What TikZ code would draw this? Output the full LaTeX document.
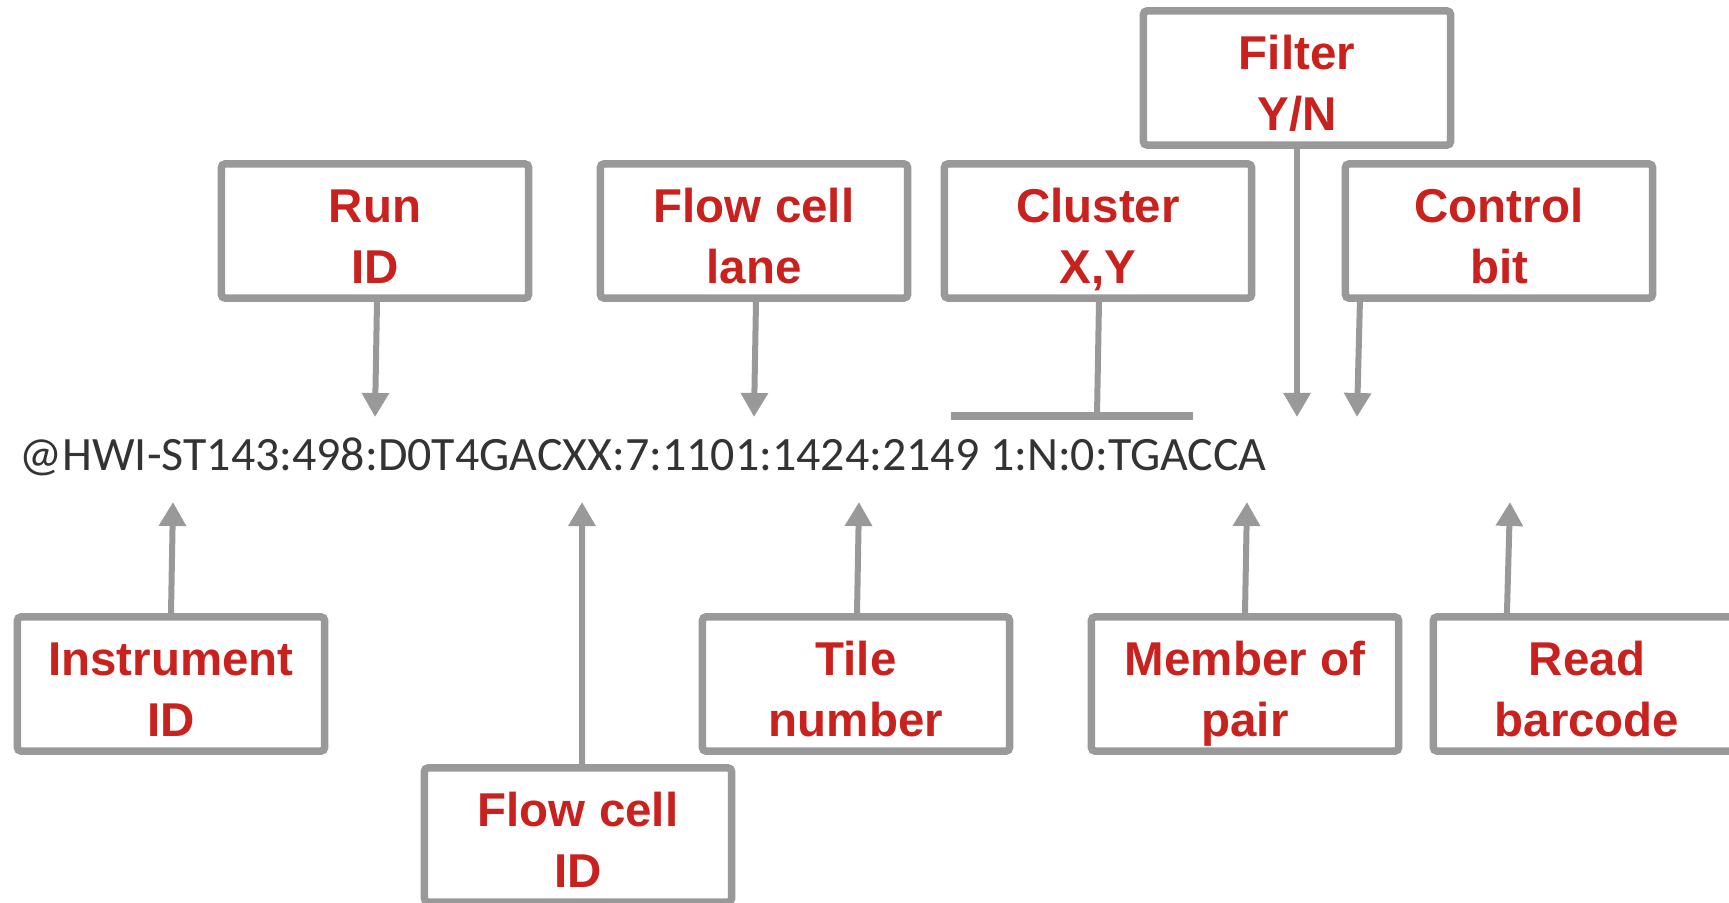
\documentclass[tikz,border=0pt]{standalone}
\usepackage{fontspec}
\usetikzlibrary{arrows.meta}
\newfontfamily\boxfont{Liberation Sans}
\newfontfamily\readfont{Carlito}
\definecolor{boxgray}{HTML}{999999}
\definecolor{labelred}{HTML}{C9211E}
\definecolor{readgray}{HTML}{333333}

% hai dòng chữ trong hộp, đẩy xuống một chút
\newcommand{\fieldlabel}[2]{\rule{0pt}{16.7pt}#1\\#2\rule[-4pt]{0pt}{4pt}}

\tikzset{
  field/.style={draw=boxgray, line width=0.075cm, rounded corners=1pt,
    minimum width=3.07cm, minimum height=1.34cm, inner sep=0pt,
    align=center, text=labelred,
    font=\boxfont\bfseries\fontsize{13.5pt}{17.4pt}\selectfont},
  pointer/.style={draw=boxgray, line width=0.06cm,
    -{Triangle[width=0.26cm, length=0.24cm]}},
}

\begin{document}
\begin{tikzpicture}[x=0.01cm, y=-0.01cm]
	\useasboundingbox (0,0) rectangle (1729,903);

	% Dòng tên read
	\node[anchor=base west, inner sep=0pt, text=readgray,
	  font=\readfont\fontsize{13.62pt}{16pt}\selectfont] (readname) at (19,470)
	  {@HWI-ST143:498:D0T4GACXX:7:1101:1424:2149 1:N:0:TGACCA};

	% Các hộp phía trên
	\node[field] (run) at (375,231) {\fieldlabel{Run}{ID}};
	\node[field] (lane) at (754,231) {\fieldlabel{Flow cell}{lane}};
	\node[field] (clus) at (1098,231) {\fieldlabel{Cluster}{X,Y}};
	\node[field] (filt) at (1297,78) {\fieldlabel{Filter}{Y/N}};
	\node[field] (ctrl) at (1499,231) {\fieldlabel{Control}{bit}};

	% Các hộp phía dưới
	\node[field] (inst) at (171,684) {\fieldlabel{Instrument}{ID}};
	\node[field] (cellid) at (578,835) {\fieldlabel{Flow cell}{ID}};
	\node[field] (tile) at (856,684) {\fieldlabel{Tile}{number}};
	\node[field] (pair) at (1245,684) {\fieldlabel{Member of}{pair}};
	\node[field] (bcode) at (1587,684) {\fieldlabel{Read}{barcode}};

	% Đầu mũi tên trên dòng tên read
	\coordinate (runTip) at (375,417);
	\coordinate (laneTip) at (754,417);
	\coordinate (filtTip) at (1297,417);
	\coordinate (ctrlTip) at (1357,417);
	\coordinate (instTip) at (173,502);
	\coordinate (cellidTip) at (582,502);
	\coordinate (tileTip) at (859,502);
	\coordinate (pairTip) at (1247,502);
	\coordinate (bcodeTip) at (1510,502);

	% Thanh ngang của Cluster X,Y
	\coordinate (barL) at (951,416);
	\coordinate (barM) at (1097,416);
	\coordinate (barR) at (1193,416);
	\draw[boxgray, line width=0.07cm] (barL) -- (barR);
	\draw[boxgray, line width=0.06cm] ([xshift=0.01cm]clus.south) -- (barM);

	% Mũi tên đi xuống
	\draw[pointer] ([xshift=0.02cm]run.south) -- (runTip);
	\draw[pointer] ([xshift=0.02cm]lane.south) -- (laneTip);
	\draw[pointer] (filt.south) -- (filtTip);
	\draw[pointer] ([xshift=-1.39cm]ctrl.south) -- (ctrlTip);

	% Mũi tên đi lên
	\draw[pointer] (inst.north) -- (instTip);
	\draw[pointer] ([xshift=0.04cm]cellid.north) -- (cellidTip);
	\draw[pointer] ([xshift=0.01cm]tile.north) -- (tileTip);
	\draw[pointer] (pair.north) -- (pairTip);
	\draw[pointer] ([xshift=-0.8cm]bcode.north) -- (bcodeTip);
\end{tikzpicture}
\end{document}
